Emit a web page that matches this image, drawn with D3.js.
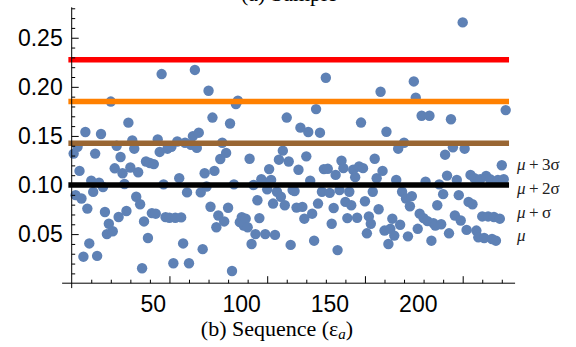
<!DOCTYPE html>
<html>
<head>
<meta charset="utf-8">
<script src="https://cdn.jsdelivr.net/npm/d3@7"></script>
<style>
  html, body { margin: 0; padding: 0; background: #fff; }
  svg { display: block; }
  .tick text, .xlab { font-family: "Liberation Sans", Arial, sans-serif; }
</style>
</head>
<body>
<svg id="chart" width="576" height="347"></svg>
<script>
// ---- data ----
const values = [
  0.132, 0.0897, 0.139, 0.1144, 0.0863, 0.027, 0.154, 0.076, 0.0405, 0.1044,
  0.093, 0.132, 0.0278, 0.1024, 0.152, 0.098, 0.0725, 0.050, 0.0605, 0.185,
  0.0529, 0.117, 0.140, 0.0674, 0.1285, 0.112, 0.101, 0.0735, 0.1635, 0.1178,
  0.1454, 0.137, 0.088, 0.113, 0.0804, 0.0152, 0.0629, 0.124, 0.046, 0.1224,
  0.0714, 0.1213, 0.0708, 0.1464, 0.1337, 0.213, 0.1007, 0.0673, 0.137, 0.0667,
  0.139, 0.0203, 0.0667, 0.1443, 0.107, 0.067, 0.0405, 0.143, 0.0925, 0.0203,
  0.141, 0.1498, 0.2172, 0.1378, 0.1533, 0.0925, 0.0347, 0.112, 0.0985, 0.196,
  0.0779, 0.1687, 0.1144, 0.057, 0.069, 0.1265, 0.143, 0.0629, 0.1327, 0.0768,
  0.1626, 0.0124, 0.1007, 0.1825, 0.186, 0.0622, 0.0673, 0.0588, 0.0657, 0.057,
  0.1268, 0.0399, 0.100, 0.050, 0.0845, 0.0663, 0.1059, 0.1034, 0.050, 0.0956,
  0.1162, 0.1052, 0.0811, 0.0492, 0.0931, 0.1258, 0.088, 0.135, 0.0794, 0.1687,
  0.124, 0.039, 0.0948, 0.0938, 0.077, 0.1155, 0.1584, 0.0777, 0.0657, 0.1292,
  0.154, 0.1044, 0.0708, 0.0433, 0.1773, 0.0811, 0.1533, 0.0931, 0.1162, 0.2093,
  0.1165, 0.092, 0.0605, 0.0766, 0.1103, 0.0337, 0.0948, 0.1247, 0.1172, 0.0828,
  0.0663, 0.0931, 0.0794, 0.1155, 0.108, 0.0667, 0.1189, 0.1636, 0.1172, 0.0835,
  0.0508, 0.068, 0.0605, 0.0931, 0.1268, 0.1069, 0.0753, 0.195, 0.1144, 0.0536,
  0.1543, 0.0399, 0.0554, 0.0657, 0.0485, 0.1052, 0.137, 0.0595, 0.0931, 0.143,
  0.0863, 0.0477, 0.0784, 0.0887, 0.2055, 0.189, 0.0554, 0.0708, 0.1705, 0.0663,
  0.1034, 0.0632, 0.1705, 0.0433, 0.0612, 0.0588, 0.0794, 0.1007, 0.06, 0.0907,
  0.1309, 0.1096, 0.0508, 0.167, 0.1385, 0.069, 0.1052, 0.0897, 0.0639, 0.2656,
  0.137, 0.0543, 0.0828, 0.1103, 0.0804, 0.1069, 0.0536, 0.0467, 0.1059, 0.068,
  0.046, 0.1093, 0.068, 0.1059, 0.045, 0.0674, 0.0433, 0.1052, 0.0657, 0.1201,
  0.1059, 0.1763
];
const mu = 0.1;
const sigma = 0.0425;
const thresholdK = [3, 2, 1, 0];
const thresholdColors = ["#FF0000", "#FF8000", "#996633", "#000000"];
const yMajorTicks = [0.05, 0.10, 0.15, 0.20, 0.25];
const xMajorTicks = [50, 100, 150, 200];
const xTickLabels = ["50", "100", "150", "200"];
const bandLabels = [
  { k: "3", sig: "σ", at: 0.1158 },
  { k: "2", sig: "σ", at: 0.0913 },
  { k: "",  sig: "σ", at: 0.0664 },
  { k: null, sig: "", at: 0.0433 }
];
const title = "(b) Sequence (";
const topCaption = "(a) Sample";

// ---- scales ----
const svg = d3.select("#chart");
const x = d3.scaleLinear().domain([0, 222]).range([71.7, 505.7]);
const y = d3.scaleLinear().domain([0, 0.281]).range([283.2, 7.3]);
// in the reference figure the tick numbers sit on a narrower layout than the ticks
const xLabelPos = d3.scaleLinear().domain([50, 200]).range([153.3, 418.3]);

// cut-off caption of the previous panel at the very top
svg.append("text")
  .attr("x", 241).attr("y", 1)
  .attr("font-family", "'Liberation Serif', 'Times New Roman', serif")
  .attr("font-size", 22).attr("fill", "#000")
  .text(topCaption);

// ---- points ----
svg.append("g").selectAll("circle")
  .data(values)
  .join("circle")
  .attr("cx", (d, i) => x(i + 1))
  .attr("cy", d => y(d))
  .attr("r", 5.2)
  .attr("fill", "#5E81B5");

// ---- threshold lines ----
svg.append("g").selectAll("line")
  .data(thresholdK)
  .join("line")
  .attr("x1", x(-1.7)).attr("x2", x(223.7))
  .attr("y1", k => y(mu + k * sigma)).attr("y2", k => y(mu + k * sigma))
  .attr("stroke", (k, i) => thresholdColors[i])
  .attr("stroke-width", 5.5);

// ---- y axis ----
const yMinor = d3.range(1, 29).map(i => i / 100).filter(v => Math.round(v * 100) % 5 !== 0);
const gyMinor = svg.append("g").attr("transform", `translate(${x(0)},0)`)
  .call(d3.axisLeft(y).tickValues(yMinor).tickSize(-3.5).tickSizeOuter(0).tickFormat(""));
gyMinor.select(".domain").remove();
const gy = svg.append("g").attr("transform", `translate(${x(0)},0)`)
  .call(d3.axisLeft(y).tickValues(yMajorTicks).tickSize(-7).tickSizeOuter(0)
        .tickPadding(9).tickFormat(d3.format(".2f")));
gy.select(".domain").remove();
gy.selectAll(".tick text").attr("font-size", 23).attr("fill", "#000");
svg.append("line")
  .attr("x1", x(0)).attr("x2", x(0))
  .attr("y1", y(-0.005)).attr("y2", y(0.281))
  .attr("stroke", "#000");

// ---- x axis ----
const xMinor = d3.range(10, 230, 10).filter(v => v % 50 !== 0);
const gxMinor = svg.append("g").attr("transform", `translate(0,${y(0)})`)
  .call(d3.axisBottom(x).tickValues(xMinor).tickSize(-3.5).tickSizeOuter(0).tickFormat(""));
gxMinor.select(".domain").remove();
const gx = svg.append("g").attr("transform", `translate(0,${y(0)})`)
  .call(d3.axisBottom(x).tickValues(xMajorTicks).tickSize(-7).tickSizeOuter(0).tickFormat(""));
gx.select(".domain").remove();
svg.append("g").selectAll("text")
  .data(xMajorTicks)
  .join("text")
  .attr("class", "xlab")
  .attr("x", d => xLabelPos(d))
  .attr("y", y(0) + 12)
  .attr("dy", "0.71em")
  .attr("text-anchor", "middle")
  .attr("font-size", 23).attr("fill", "#000")
  .text((d, i) => xTickLabels[i]);
svg.append("line")
  .attr("x1", x(-4.9)).attr("x2", x(226.8))
  .attr("y1", y(0)).attr("y2", y(0))
  .attr("stroke", "#000");
svg.selectAll(".tick line").attr("stroke", "#000");

// ---- band labels on the right ----
const lab = svg.append("g")
  .attr("font-family", "'Liberation Serif', 'Times New Roman', serif")
  .attr("font-size", 17).attr("fill", "#222");
bandLabels.forEach(b => {
  const t = lab.append("text").attr("x", x(227.8)).attr("y", y(b.at));
  t.append("tspan").attr("font-style", "italic").text("μ");
  if (b.k !== null) {
    t.append("tspan").text("\u2009+\u2009" + b.k + b.sig);
  }
});

// ---- x title ----
const tt = svg.append("text")
  .attr("x", 277).attr("y", 336)
  .attr("text-anchor", "middle")
  .attr("font-family", "'Liberation Serif', 'Times New Roman', serif")
  .attr("font-size", 22).attr("fill", "#000");
tt.append("tspan").text(title + "ε");
tt.append("tspan").attr("font-style", "italic").attr("font-size", 15).attr("dy", 3).text("a");
tt.append("tspan").attr("dy", -3).text(")");
</script>
</body>
</html>
